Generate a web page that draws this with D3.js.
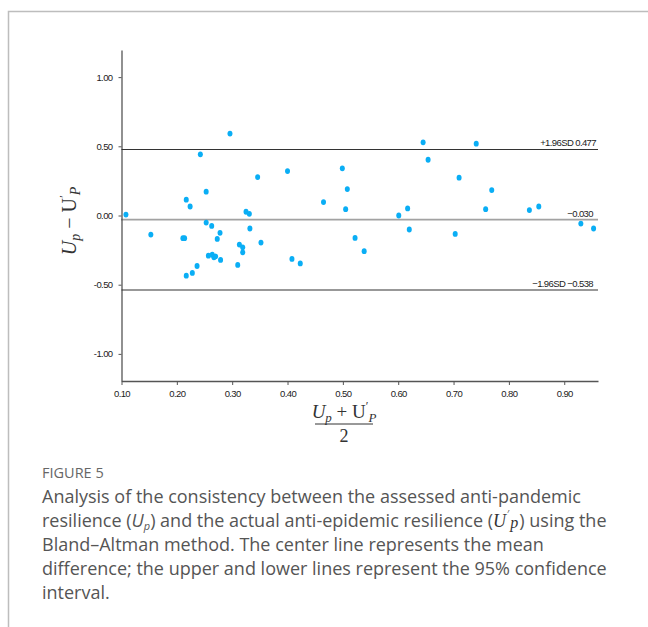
<!DOCTYPE html>
<html>
  <head>
    <meta charset="utf-8">
    <title>Bland-Altman</title>
    <script src="https://cdn.jsdelivr.net/npm/d3@7"></script>
    <style>
      body { margin: 0; background: #fff; }
      .tick text, .refLabel { font-family: "Liberation Sans", Arial, sans-serif; font-size: 9.5px; letter-spacing: -0.6px; fill: #222; }
      .math { font-family: "Liberation Serif", "DejaVu Serif", serif; font-style: italic; fill: #333; }
      .caption { font-family: "Open Sans", sans-serif; fill: #555; }
    </style>
  </head>
  <body>
    <div id="container"></div>

    <script>
      // data: mean (x) and difference (y) per city
      meanVals = [0.108, 0.153, 0.211, 0.214, 0.217, 0.224, 0.217, 0.228, 0.2365, 0.2425,
        0.253, 0.253, 0.257, 0.263, 0.264, 0.267, 0.270, 0.273, 0.278, 0.279,
        0.296, 0.310, 0.313, 0.319, 0.319, 0.325, 0.331, 0.332, 0.346, 0.352,
        0.400, 0.408, 0.423, 0.465, 0.499, 0.505, 0.508, 0.522, 0.5385, 0.601,
        0.617, 0.620, 0.645, 0.654, 0.703, 0.710, 0.741, 0.758, 0.769, 0.837,
        0.854, 0.930, 0.953];
      diffVals = [0.007, -0.138, -0.164, -0.164, 0.114, 0.065, -0.435, -0.415, -0.365, 0.442,
        0.172, -0.051, -0.290, -0.075, -0.283, -0.302, -0.295, -0.169, -0.125, -0.321,
        0.592, -0.357, -0.210, -0.230, -0.266, 0.027, 0.012, -0.094, 0.278, -0.196,
        0.321, -0.314, -0.346, 0.097, 0.341, 0.046, 0.191, -0.162, -0.258, 0.000,
        0.051, -0.101, 0.529, 0.403, -0.133, 0.273, 0.519, 0.046, 0.184, 0.039,
        0.065, -0.058, -0.094];

      xTicks = [0.1, 0.2, 0.3, 0.4, 0.5, 0.6, 0.7, 0.8, 0.9];
      yTicks = [-1, -0.5, 0, 0.5, 1];

      refLines = [
        {value: 0.477, label: "+1.96SD 0.477", dotted: false},
        {value: -0.030, label: "\u22120.030", dotted: true},
        {value: -0.538, label: "\u22121.96SD \u22120.538", dotted: false}
      ];

      captionLines = [
        "Analysis of the consistency between the assessed anti-pandemic",
        null,
        "Bland\u2013Altman method. The center line represents the mean",
        "difference; the upper and lower lines represent the 95% confidence",
        "interval."
      ];

      width = 648;
      height = 627;

      svg = d3.select("#container").append("svg")
        .attr("width", width)
        .attr("height", height);

      // frame
      svg.append("path")
        .attr("d", "M8.5,627 V11.5 H648")
        .attr("fill", "none")
        .attr("stroke", "#bdbdbd")
        .attr("stroke-width", 1.5);

      margin = {left: 121.5, right: 598, top: 50, bottom: 381};

      xScale = d3.scaleLinear().domain([0.1, 0.961]).range([margin.left, margin.right]);
      yScale = d3.scaleLinear().domain([-1.196, 1.196]).range([margin.bottom, margin.top]);

      fmt = d => d3.format(".2f")(d).replace("\u2212", "-");

      svg.append("g")
        .attr("transform", "translate(0," + margin.bottom + ")")
        .call(d3.axisBottom(xScale).tickValues(xTicks).tickFormat(fmt).tickSizeInner(4).tickSizeOuter(0).tickPadding(5));

      svg.append("g")
        .attr("transform", "translate(" + margin.left + ",0)")
        .call(d3.axisLeft(yScale).tickValues(yTicks).tickFormat(fmt).tickSizeInner(3).tickSizeOuter(0).tickPadding(6));

      svg.selectAll(".domain").attr("stroke", "#555").attr("stroke-width", 1.3);
      svg.selectAll(".tick line").attr("stroke", "#555");

      // reference lines
      ref = svg.append("g").selectAll("g")
        .data(refLines)
        .enter().append("g");

      ref.append("line")
        .attr("x1", margin.left)
        .attr("x2", margin.right)
        .attr("y1", d => yScale(d.value))
        .attr("y2", d => yScale(d.value))
        .attr("stroke", d => d.dotted ? "#444" : "#333")
        .attr("stroke-width", d => d.dotted ? 1.6 : 1.1)
        .attr("stroke-dasharray", d => d.dotted ? "1,1" : null);

      ref.append("text")
        .classed("refLabel", true)
        .attr("x", (d, i) => i == 0 ? 596 : 593)
        .attr("y", d => yScale(d.value) - 3)
        .attr("text-anchor", "end")
        .text(d => d.label);

      // points
      svg.append("g")
        .selectAll("ellipse")
          .data(meanVals)
        .enter().append("ellipse")
          .attr("cx", d => xScale(d))
          .attr("cy", (d, i) => yScale(diffVals[i]))
          .attr("rx", 2.5)
          .attr("ry", 2.9)
          .attr("fill", "#0aaef5");

      // y axis title
      yTitle = svg.append("text")
        .attr("class", "math")
        .attr("transform", "translate(76,221) rotate(-90)")
        .attr("text-anchor", "middle")
        .style("font-size", "20px");
      yTitle.append("tspan").text("U");
      yTitle.append("tspan").attr("dy", 4).style("font-size", "14px").text("p");
      yTitle.append("tspan").attr("dy", -4).style("font-style", "normal").text(" \u2212 U");
      yTitle.append("tspan").attr("dy", -8).style("font-size", "13px").style("font-style", "normal").text("\u2032");
      yTitle.append("tspan").attr("dy", 12).style("font-size", "14px").text("P");

      // x axis title: fraction
      xTitle = svg.append("text")
        .attr("class", "math")
        .attr("x", 344)
        .attr("y", 418)
        .attr("text-anchor", "middle")
        .style("font-size", "19px");
      xTitle.append("tspan").text("U");
      xTitle.append("tspan").attr("dy", 4).style("font-size", "13px").text("p");
      xTitle.append("tspan").attr("dy", -4).style("font-style", "normal").text(" + U");
      xTitle.append("tspan").attr("dy", -8).style("font-size", "12px").style("font-style", "normal").text("\u2032");
      xTitle.append("tspan").attr("dy", 12).style("font-size", "13px").text("P");

      svg.append("line")
        .attr("x1", 315).attr("x2", 373)
        .attr("y1", 424).attr("y2", 424)
        .attr("stroke", "#333").attr("stroke-width", 1);

      svg.append("text")
        .attr("class", "math")
        .attr("x", 344)
        .attr("y", 442)
        .attr("text-anchor", "middle")
        .style("font-style", "normal")
        .style("font-size", "18px")
        .text("2");

      // caption
      svg.append("text")
        .attr("class", "caption")
        .attr("x", 42)
        .attr("y", 478)
        .style("font-size", "14.5px")
        .style("fill", "#666")
        .text("FIGURE 5");

      captionLines.forEach((line, i) => {
        t = svg.append("text")
          .attr("class", "caption")
          .attr("x", 42)
          .attr("y", 503 + i * 24)
          .style("font-size", "18px");
        if (line) {
          t.text(line);
        } else {
          t.append("tspan").text("resilience (");
          t.append("tspan").style("font-style", "italic").text("U");
          t.append("tspan").attr("dy", 3).style("font-size", "11px").style("font-style", "italic").text("p");
          t.append("tspan").attr("dy", -3).text(") and the actual anti-epidemic resilience (");
          t.append("tspan").attr("class", "math").style("fill", "#333").text("U");
          t.append("tspan").attr("dy", -9).attr("dx", 1).style("font-size", "10px").text("\u2032");
          t.append("tspan").attr("dy", 10).attr("dx", 1).attr("class", "math").style("fill", "#333").style("font-size", "16px").text("p");
          t.append("tspan").attr("dy", -1).attr("dx", 1).text(") using the");
        }
      });
    </script>
  </body>
</html>
